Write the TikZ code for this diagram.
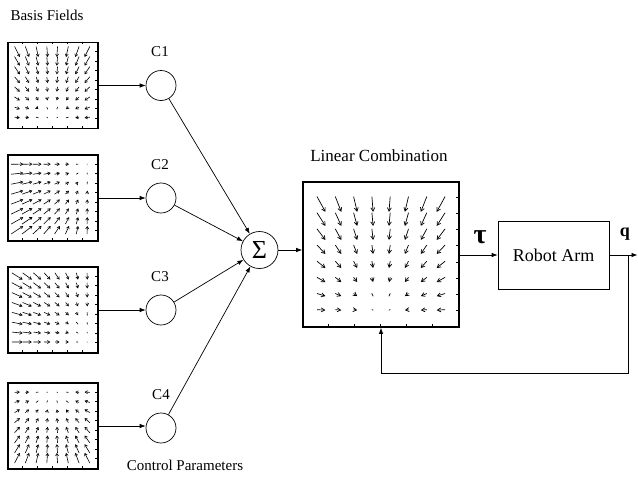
\documentclass[tikz,border=0pt]{standalone}
\usepackage{fontspec}
\setmainfont{Liberation Serif}
\usetikzlibrary{arrows.meta}

% quiver plot of a linear field k*(p-x) on an 8x8 grid inside a box node
% #1 node, #2 x0, #3 dx, #4 y0, #5 dy, #6 px, #7 py, #8 kx, #9 ky
\newcommand{\fieldarrows}[9]{%
  \begin{scope}[shift={(#1.north west)}]
    \foreach \i in {0,...,7}
      \foreach \j in {0,...,7}{
        \pgfmathsetmacro{\gx}{#2+#3*\i}
        \pgfmathsetmacro{\gy}{#4+#5*\j}
        \pgfmathsetmacro{\ux}{#8*(#6-\gx)}
        \pgfmathsetmacro{\uy}{#9*(#7-\gy)}
        \pgfmathsetmacro{\ul}{veclen(\ux,\uy)}
        % short vectors are drawn as plain dashes
        \ifdim\ul pt<3pt
          \draw[field arrow, -, line cap=round] (\gx-\ux/2,\gy-\uy/2) -- ++(\ux,\uy);
        \else
          \draw[field arrow] (\gx-\ux/2,\gy-\uy/2) -- ++(\ux,\uy);
        \fi
      }
  \end{scope}}

% axis ticks round a plot box: #1 node, #2 width, #3 height
\newcommand{\boxticks}[3]{%
  \begin{scope}[shift={(#1.north west)}, line width=0.4pt]
    \foreach \t in {1,...,5}{
      \draw (#2*\t/6,0) -- ++(0,2);
      \draw (#2*\t/6,#3) -- ++(0,-2);
    }
    \foreach \t in {1,...,8}{
      \draw (0,#3*\t/9) -- ++(2,0);
      \draw (#2,#3*\t/9) -- ++(-2,0);
    }
  \end{scope}}

\begin{document}
\begin{tikzpicture}[
        % one unit is one pixel, y grows downwards
        x=1pt, y=-1pt,
        field box/.style={draw, line width=1.6pt, minimum width=90pt, minimum height=86pt, inner sep=0pt},
        weight/.style={draw, circle, line width=0.7pt, minimum size=30pt, inner sep=0pt},
        conn/.style={line width=0.7pt, -{Latex[length=6pt,width=4.5pt]}},
        field arrow/.style={line width=0.6pt, -{Straight Barb[length=2.4pt,width=3pt]}},
        small text/.style={font=\fontsize{15}{17}\selectfont},
        big text/.style={font=\fontsize{17}{19}\selectfont}
     ]
    \useasboundingbox (0,0) rectangle (638,477);

    % basis fields
    \node[field box] (f1) at (53,85.5) {};
    \node[field box] (f2) at (53,198) {};
    \node[field box] (f3) at (53,310) {};
    \node[field box] (f4) at (53,426) {};
    \node[small text] (basis) at (47,15) {Basis Fields};

    \fieldarrows{f1}{10}{10}{10}{9.4}{45}{80}{0.15}{0.15}
    \fieldarrows{f2}{10}{10}{10}{9.4}{81}{9}{0.17}{0.12}
    \fieldarrows{f3}{10}{10}{10}{9.4}{81}{77}{0.15}{0.10}
    \fieldarrows{f4}{10}{10}{10}{9.4}{45}{8}{0.15}{0.15}
    \foreach \f in {f1,f2,f3,f4}{
        \boxticks{\f}{90}{86}
    }

    % control parameters
    \node[weight] (c1) at (161,85.5) {};
    \node[weight] (c2) at (161,198) {};
    \node[weight] (c3) at (161,310) {};
    \node[weight] (c4) at (161,428) {};
    \node[small text] (l1) at (160,52) {C1};
    \node[small text] (l2) at (160,165) {C2};
    \node[small text] (l3) at (160,277) {C3};
    \node[small text] (l4) at (161,395) {C4};
    \node[small text] (ctrl) at (185,465) {Control Parameters};

    \draw[conn] (f1.east) -- (c1);
    \draw[conn] (f2.east) -- (c2);
    \draw[conn] (f3.east) -- (c3);
    \draw[conn] (f4.east) -- (c4.west |- f4.east);

    % summing junction
    \node[draw, circle, line width=0.7pt, minimum size=37pt, inner sep=0pt,
          font=\fontsize{26}{28}\selectfont] (sum) at (259.5,250) {Σ};
    \foreach \c in {c1,c2,c3,c4}{
        \draw[conn] (\c) -- (sum);
    }

    % combined field
    \node[draw, line width=1.6pt, minimum width=156pt, minimum height=145pt, inner sep=0pt]
        (lcomb) at (381,254.5) {};
    \node[big text] (lctext) at (379,156) {Linear Combination};
    \begin{scope}[field arrow/.append style={line width=0.7pt, -{Straight Barb[length=3.5pt,width=4pt]}}]
        \fieldarrows{lcomb}{19}{17.1}{23}{15.1}{78.9}{132}{0.14}{0.14}
    \end{scope}
    \boxticks{lcomb}{156}{145}
    \draw[conn] (sum) -- (lcomb.west |- sum);

    % plant and feedback
    \node[draw, line width=0.7pt, minimum width=111pt, minimum height=68pt,
          font=\fontsize{18}{20}\selectfont] (arm) at (553.5,255) {Robot Arm};
    \draw[conn] (lcomb.east |- arm) -- (arm.west);
    \node[font=\fontsize{28}{30}\selectfont\bfseries] (tau) at (480,237) {τ};

    \coordinate (out) at (637.5,255);
    \coordinate (tap) at (628,255);
    \coordinate (fb) at (628,373);
    \draw[conn] (arm.east) -- (out);
    \node[font=\fontsize{18}{20}\selectfont\bfseries] (q) at (625,234) {q};
    \draw[conn] (tap) -- (fb) -| (lcomb.south);
\end{tikzpicture}
\end{document}
